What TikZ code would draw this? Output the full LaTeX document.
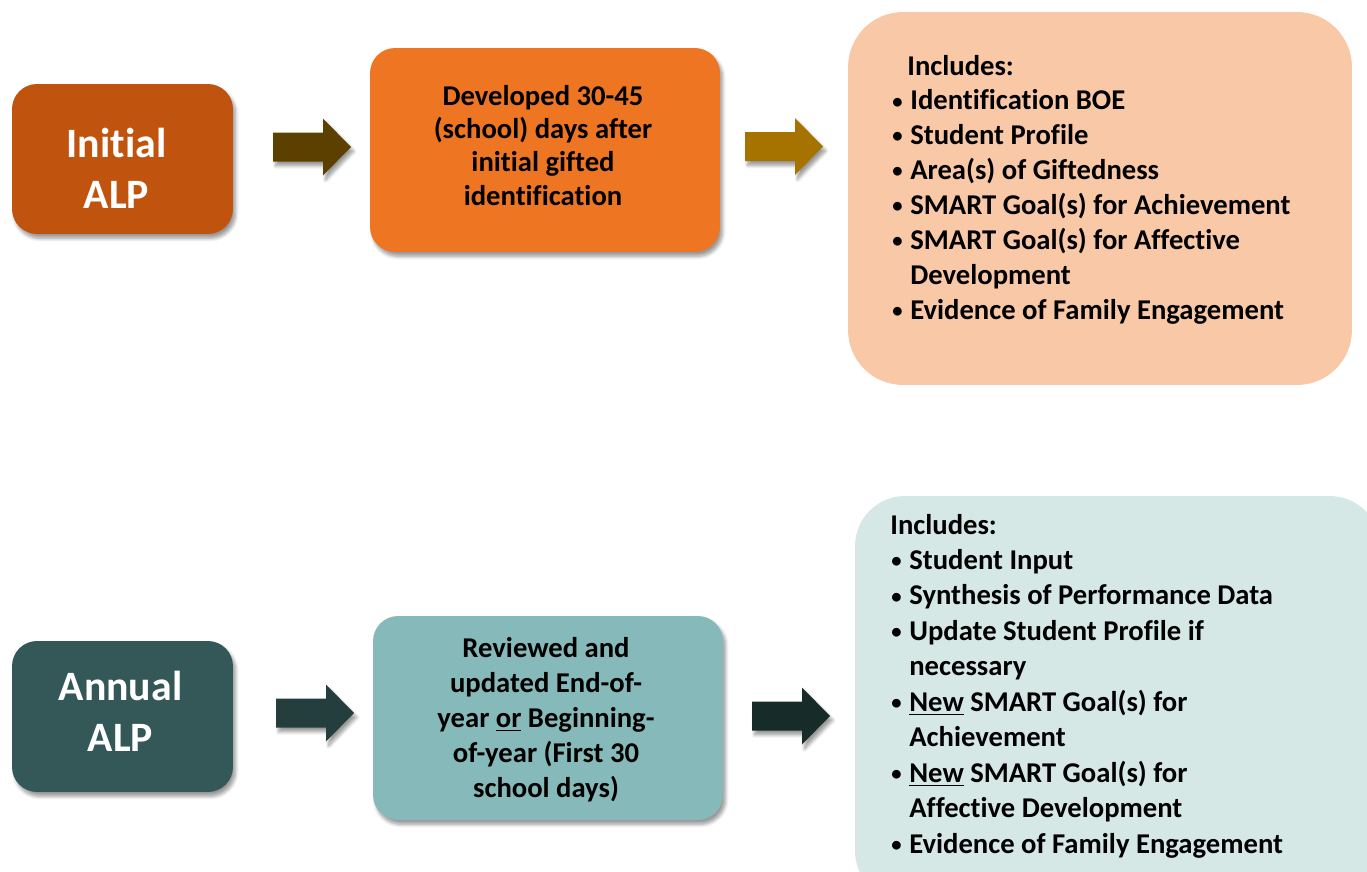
\documentclass[tikz,border=0pt]{standalone}
\usepackage{fontspec}
\setmainfont{Carlito}[Ligatures=NoCommon]
\usetikzlibrary{shadows.blur}
\definecolor{cInit}{HTML}{C0540F}
\definecolor{cOrange}{HTML}{EE7623}
\definecolor{cPeach}{HTML}{F8C8A7}
\definecolor{cAnnual}{HTML}{345858}
\definecolor{cTeal}{HTML}{86B9B9}
\definecolor{cLight}{HTML}{D5E8E6}
\definecolor{cArrA}{HTML}{5C4000}
\definecolor{cArrB}{HTML}{A67300}
\definecolor{cArrC}{HTML}{233E3D}
\definecolor{cArrD}{HTML}{172B29}
\newcommand\bigfnt{\fontsize{23.8}{29.5}\selectfont\bfseries}
\newcommand\midfnt[1]{\fontsize{16.3}{#1}\selectfont\bfseries}
\newcommand\bul{\makebox[0.36cm][l]{\raisebox{0.06em}{\scalebox{0.72}{\textbullet}}}}
\begin{document}
\begin{tikzpicture}[x=0.02cm, y=-0.02cm,
  shad/.style={blur shadow={shadow xshift=1.5pt, shadow yshift=-2.5pt, shadow blur steps=6, shadow opacity=40}},
  box/.style={rectangle, rounded corners=0.5cm, inner sep=0pt, shad},
  bigbox/.style={rectangle, rounded corners=1.1cm, inner sep=0pt},
  txt/.style={inner sep=0pt, anchor=base},
  lst/.style={inner sep=0pt, anchor=base west},
  pics/blockarrow/.style={code={
    \fill[fill=#1, shad] (0,-14.5) -- (50,-14.5) -- (50,-28.5) -- (78,0) -- (50,28.5) -- (50,14.5) -- (0,14.5) -- cycle;}}
]
\useasboundingbox (0,0) rectangle (1367,872);

% top row
\node[box, fill=cInit, minimum width=4.42cm, minimum height=3cm] (init) at (122.5,159) {};
\node[txt, text=white, font=\bigfnt] (initT) at (116.5,157) {\begin{tabular}[t]{@{}c@{}}Initial\\ALP\end{tabular}};

\node[box, fill=cOrange, minimum width=7cm, minimum height=4.08cm] (dev) at (545,150) {};
\node[txt, font={\midfnt{19}}] (devT) at (543,105) {\begin{tabular}[t]{@{}c@{}}Developed 30-45\\(school) days after\\initial gifted\\identification\end{tabular}};

\node[bigbox, fill=cPeach, minimum width=10.08cm, minimum height=7.46cm] (inc) at (1100,198.5) {};
\node[lst, font={\midfnt{19.84}}] (incT) at (892,75) {\begin{tabular}[t]{@{}l@{}l@{}}
\multicolumn{2}{@{}l@{}}{\hspace{0.3cm}Includes:}\\
\bul & Identification BOE\\
\bul & Student Profile\\
\bul & Area(s) of Giftedness\\
\bul & SMART Goal(s) for Achievement\\
\bul & SMART Goal(s) for Affective\\
 & Development\\
\bul & Evidence of Family Engagement
\end{tabular}};

\pic at (273,147) {blockarrow=cArrA};
\pic at (745,146.5) {blockarrow=cArrB};

% bottom row
\node[box, fill=cAnnual, minimum width=4.42cm, minimum height=3.02cm] (ann) at (122.5,716.5) {};
\node[txt, text=white, font=\bigfnt] (annT) at (120.5,700) {\begin{tabular}[t]{@{}c@{}}Annual\\ALP\end{tabular}};

\node[box, fill=cTeal, minimum width=7cm, minimum height=4.08cm] (rev) at (548,718) {};
\node[txt, font={\midfnt{20}}] (revT) at (546,657) {\begin{tabular}[t]{@{}c@{}}Reviewed and\\updated End-of-\\year \underline{or} Beginning-\\of-year (First 30\\school days)\end{tabular}};

\begin{scope}
\clip (0,0) rectangle (1367,872);
\node[bigbox, rounded corners=1cm, fill=cLight, minimum width=10.5cm, minimum height=8.1cm] (inc2) at (1117.5,698.5) {};
\end{scope}
\node[lst, font={\midfnt{20.2}}] (inc2T) at (891,534) {\begin{tabular}[t]{@{}l@{}l@{}}
\multicolumn{2}{@{}l@{}}{\hspace{-0.02cm}Includes:}\\
\bul & Student Input\\
\bul & Synthesis of Performance Data\\
\bul & Update Student Profile if\\
 & necessary\\
\bul & \underline{New} SMART Goal(s) for\\
 & Achievement\\
\bul & \underline{New} SMART Goal(s) for\\
 & Affective Development\\
\bul & Evidence of Family Engagement
\end{tabular}};

\pic at (276,713) {blockarrow=cArrC};
\pic at (752,716) {blockarrow=cArrD};
\end{tikzpicture}
\end{document}
